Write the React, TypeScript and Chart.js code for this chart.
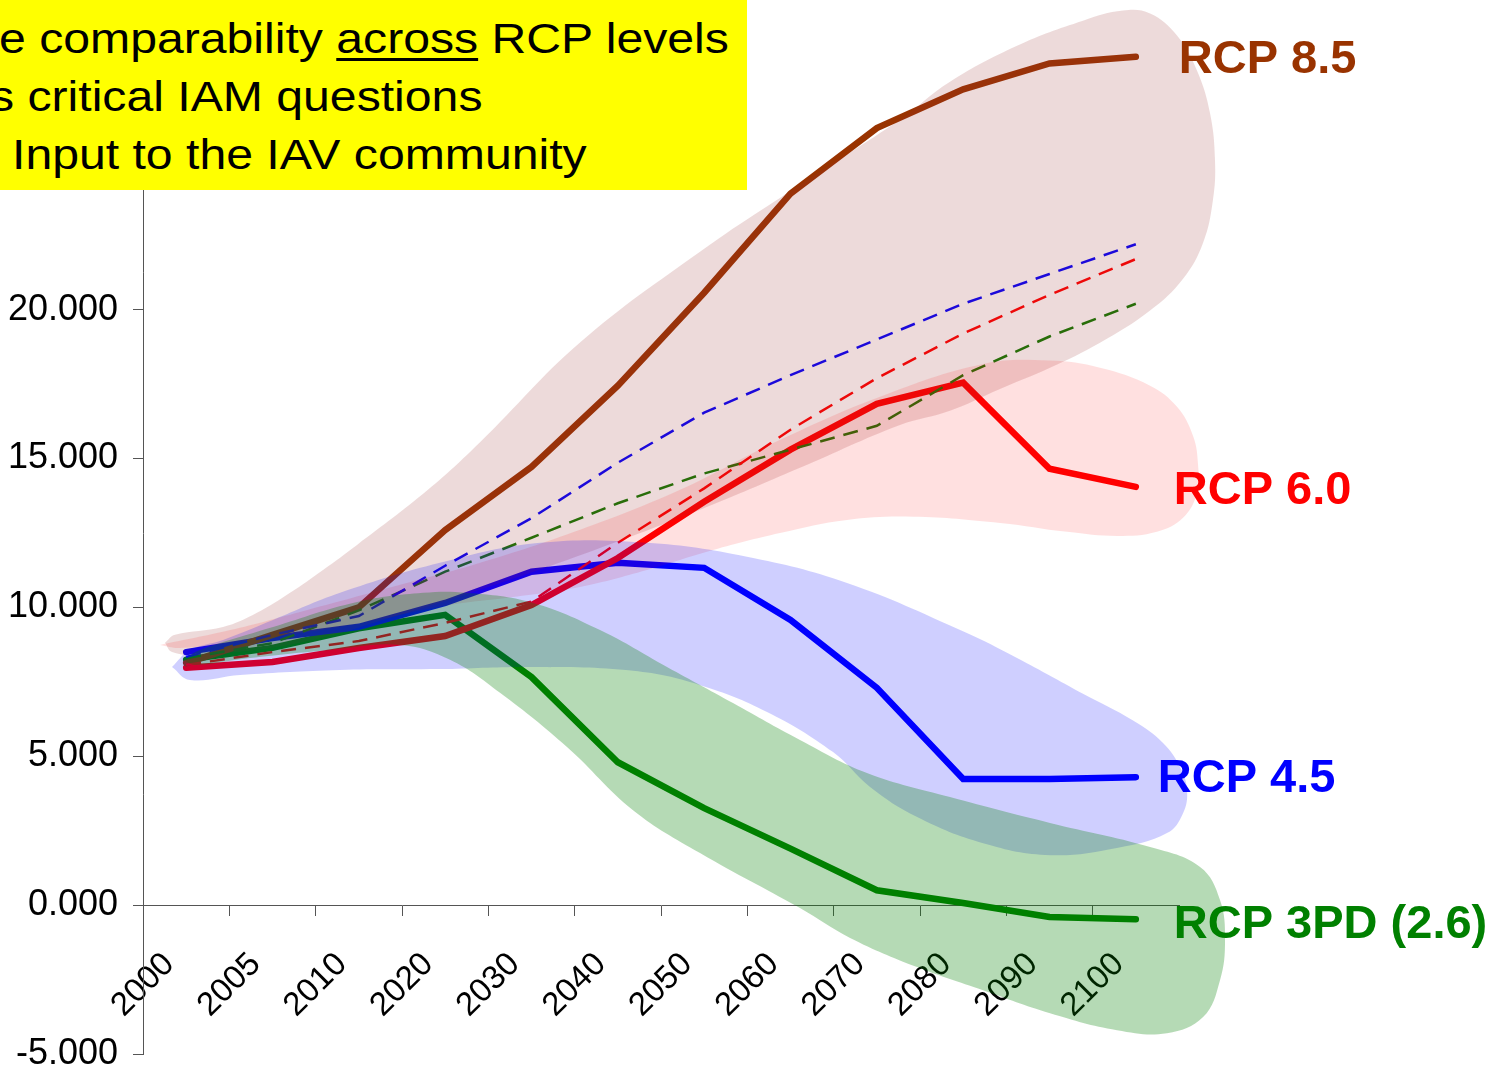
import React, { useEffect, useRef } from 'react';
import { Chart, registerables } from 'chart.js';

Chart.register(...registerables);

const FONT = '"Liberation Sans", Arial, Helvetica, sans-serif';

// Category labels of the x axis
const years = ['2000', '2005', '2010', '2020', '2030', '2040', '2050', '2060', '2070', '2080', '2090', '2100'];

// Main RCP pathways (solid)
const rcp85 = [8.13, 9.08, 10.0, 12.6, 14.72, 17.45, 20.57, 23.9, 26.1, 27.4, 28.27, 28.5];
const rcp60 = [7.97, 8.17, 8.64, 9.04, 10.08, 11.66, 13.55, 15.3, 16.84, 17.55, 14.66, 14.05];
const rcp45 = [8.5, 8.97, 9.35, 10.15, 11.2, 11.5, 11.33, 9.58, 7.3, 4.24, 4.24, 4.3];
const rcp3pd = [8.24, 8.64, 9.3, 9.75, 7.66, 4.8, 3.26, 1.9, 0.5, 0.07, -0.4, -0.47];

// Reference / baseline scenarios (dashed)
const refBlue = [8.34, 9.08, 9.71, 11.4, 13.0, 14.86, 16.54, 17.8, 19.0, 20.2, 21.2, 22.2];
const refRed = [8.07, 8.5, 8.87, 9.48, 10.2, 12.17, 14.0, 15.97, 17.7, 19.2, 20.5, 21.7];
const refGreen = [8.3, 8.8, 9.9, 11.2, 12.34, 13.5, 14.5, 15.3, 16.1, 17.8, 19.1, 20.2];

// Uncertainty ranges: outlines as [category position, value]
const band85: [number, number][] = [
  [-0.245, 8.81], [-0.129, 9.08], [0.427, 9.34], [0.82, 9.82], [1.203, 10.49], [1.585, 11.26],
  [1.979, 12.1], [2.8, 13.95], [3.404, 15.55], [4.562, 18.9], [5.952, 21.95],
  [7.11, 24.2], [8.269, 26.39], [8.848, 27.66], [9.624, 28.87], [10.388, 29.71], [10.852, 30.05],
  [11.165, 29.95], [11.477, 29.21], [11.709, 28.03], [11.86, 26.59], [11.917, 25.01], [11.894, 23.7],
  [11.779, 22.25], [11.547, 21.04], [11.165, 19.97], [10.585, 18.89], [10.006, 18.05], [9.427, 17.34],
  [8.848, 16.61], [8.269, 16.13], [7.11, 14.69], [5.952, 13.28], [4.794, 12.0], [3.635, 10.82],
  [2.477, 9.75], [1.319, 8.81], [0.16, 8.4], [-0.164, 8.5], [-0.245, 8.81],
];
const band60: [number, number][] = [
  [-0.303, 8.74], [0.508, 9.24], [1.319, 9.85], [2.477, 10.76], [3.404, 11.5], [4.562, 12.61],
  [5.72, 13.95], [6.879, 15.63], [8.037, 17.08], [9.23, 18.18], [10.006, 18.29], [10.585, 18.05],
  [11.165, 17.45], [11.477, 16.74], [11.663, 15.76], [11.72, 14.82], [11.709, 13.85], [11.547, 13.01],
  [11.245, 12.54], [10.782, 12.4], [10.203, 12.54], [9.427, 12.84], [8.419, 13.05], [7.655, 12.94],
  [6.879, 12.5], [6.103, 11.93], [5.338, 11.26], [4.562, 10.69], [3.786, 10.35], [3.056, 10.08],
  [1.898, 9.41], [0.739, 8.91], [-0.071, 8.64], [-0.303, 8.74],
];
const band45: [number, number][] = [
  [-0.164, 8.0], [0.044, 8.57], [0.427, 8.91], [1.006, 9.58], [1.782, 10.49], [2.94, 11.5],
  [4.099, 12.17], [5.338, 12.17], [6.496, 11.7], [7.655, 10.82], [8.998, 9.2], [9.624, 8.3],
  [10.388, 7.1], [10.968, 6.2], [11.315, 5.45], [11.512, 4.64], [11.593, 3.87], [11.547, 3.09],
  [11.361, 2.42], [10.782, 1.92], [10.006, 1.68], [9.23, 2.08], [8.466, 2.96], [7.921, 3.97],
  [7.493, 5.14], [6.728, 6.49], [5.952, 7.39], [5.176, 7.87], [4.018, 8.0], [2.94, 7.93], [1.782, 7.9],
  [0.624, 7.73], [0.044, 7.56], [-0.164, 8.0],
];
const band3pd: [number, number][] = [
  [-0.037, 8.24], [0.16, 8.57], [1.006, 9.34], [1.979, 10.18], [2.743, 10.49], [3.253, 10.49],
  [4.018, 10.15], [4.794, 9.24], [5.57, 8.0], [6.334, 6.79], [7.11, 5.55], [7.886, 4.44],
  [8.848, 3.63], [10.006, 2.76], [11.165, 1.95], [11.744, 1.28], [11.975, 0.17], [12.033, -1.18],
  [11.975, -2.52], [11.779, -3.76], [11.361, -4.3], [10.782, -4.2], [10.006, -3.63], [9.23, -2.86],
  [8.466, -2.08], [7.69, -1.1], [7.11, -0.1], [5.952, 1.75], [5.176, 3.19], [4.411, 5.31],
  [3.635, 7.13], [3.056, 8.24], [2.477, 8.74], [1.666, 8.57], [0.739, 8.3], [0.102, 8.07],
  [-0.037, 8.24],
];

const seriesNames = ['RCP 8.5', 'RCP 6.0', 'RCP 4.5', 'RCP 3PD (2.6)'];
const seriesColors = ['#993300', '#ff0000', '#0000ff', '#008000'];

const toXY = (vals: number[]) => vals.map((v, i) => ({ x: i, y: v }));
const toPts = (pairs: [number, number][]) => pairs.map(([x, y]) => ({ x, y }));

// Fills each band outline (smooth closed curve computed by Chart.js line element)
const bandFillPlugin = {
  id: 'bandFill',
  afterDatasetDraw(chart: any, args: any) {
    const ds = chart.data.datasets[args.index];
    if (!ds.isBand) return;
    const line = args.meta.dataset;
    if (!line || !line.points || !line.points.length) return;
    const ctx = chart.ctx;
    line.updateControlPoints(chart.chartArea, 'x');
    ctx.save();
    ctx.beginPath();
    line.path(ctx);
    ctx.closePath();
    ctx.fillStyle = ds.bandColor;
    ctx.fill();
    ctx.restore();
  },
};

// End-of-line series labels
const endLabelPlugin = {
  id: 'endLabels',
  afterDraw(chart: any) {
    const ctx = chart.ctx;
    const xs = chart.scales.x;
    const ys = chart.scales.y;
    const finals = [rcp85, rcp60, rcp45, rcp3pd].map((a) => a[a.length - 1]);
    const dx = [43, 38, 22, 38];
    const dy = [3, 4, 2, 6];
    ctx.save();
    ctx.font = `bold 47px ${FONT}`;
    ctx.textBaseline = 'middle';
    ctx.textAlign = 'left';
    seriesNames.forEach((name, i) => {
      ctx.fillStyle = seriesColors[i];
      const px = xs.getPixelForValue(years.length - 1) + dx[i];
      const py = ys.getPixelForValue(finals[i]) + dy[i];
      ctx.fillText(name, px, py);
    });
    ctx.restore();
  },
};

export default function App() {
  const ref = useRef<HTMLCanvasElement>(null);

  useEffect(() => {
    const canvas = ref.current;
    if (!canvas) return;
    const solid = (label: string, data: number[], color: string) => ({
      label,
      data: toXY(data),
      borderColor: color,
      backgroundColor: color,
      borderWidth: 6.5,
      pointRadius: 0,
      tension: 0,
      fill: false,
      borderCapStyle: 'round',
      borderJoinStyle: 'miter',
      xAxisID: 'x',
      yAxisID: 'y',
      order: 2,
    });
    const dashed = (label: string, data: number[], color: string) => ({
      label,
      data: toXY(data),
      borderColor: color,
      backgroundColor: color,
      borderWidth: 2.5,
      borderDash: [15, 9],
      pointRadius: 0,
      tension: 0,
      fill: false,
      xAxisID: 'x',
      yAxisID: 'y',
      order: 1,
    });
    const band = (label: string, pairs: [number, number][], color: string) => ({
      label,
      data: toPts(pairs),
      isBand: true,
      bandColor: color,
      borderWidth: 0,
      borderColor: 'rgba(0,0,0,0)',
      backgroundColor: color,
      pointRadius: 0,
      tension: 0.4,
      capBezierPoints: false,
      fill: false,
      clip: false,
      xAxisID: 'x',
      yAxisID: 'y',
      order: 0,
    });

    const chart = new Chart(canvas, {
      type: 'line',
      data: {
        labels: years,
        datasets: [
          band('RCP 3PD range', band3pd, 'rgba(0,128,0,0.29)'),
          band('RCP 4.5 range', band45, 'rgba(0,0,255,0.19)'),
          band('RCP 6.0 range', band60, 'rgba(255,0,0,0.12)'),
          band('RCP 8.5 range', band85, 'rgba(153,51,51,0.18)'),
          dashed('Baseline (blue)', refBlue, '#0000ff'),
          dashed('Baseline (red)', refRed, '#ff0000'),
          dashed('Baseline (green)', refGreen, '#107a00'),
          solid('RCP 8.5', rcp85, '#993300'),
          solid('RCP 6.0', rcp60, '#ff0000'),
          solid('RCP 4.5', rcp45, '#0000ff'),
          solid('RCP 3PD (2.6)', rcp3pd, '#008000'),
        ] as any,
      },
      options: {
        responsive: false,
        animation: false,
        events: [],
        layout: { padding: { left: 0, right: 329, top: 12, bottom: 13 } },
        plugins: {
          legend: { display: false },
          tooltip: { enabled: false },
        },
        scales: {
          x: { type: 'linear', min: -0.5, max: 11.5, display: false },
          xc: {
            type: 'category',
            axis: 'x',
            labels: years,
            offset: true,
            position: { y: 0 },
            grid: { offset: true, drawOnChartArea: false, drawTicks: true, tickLength: 10, color: '#555', lineWidth: 1 },
            border: { display: true, color: '#555', width: 1 },
            ticks: {
              autoSkip: false,
              minRotation: 45,
              maxRotation: 45,
              color: '#000',
              font: { size: 33, family: FONT },
              padding: 30,
              labelOffset: -17,
            },
            afterFit: (s: any) => {
              s.paddingLeft = 0;
              s.paddingRight = 0;
            },
          },
          y: {
            type: 'linear',
            position: 'left',
            min: -5,
            max: 30,
            ticks: {
              stepSize: 5,
              color: '#000',
              font: { size: 36, family: FONT },
              padding: 15,
              callback: (v: any) => Number(v).toFixed(3),
            },
            grid: { drawOnChartArea: false, tickLength: 10, color: '#555' },
            border: { color: '#555', width: 1 },
            afterFit: (s: any) => {
              s.width = 143;
              s.paddingTop = 0;
              s.paddingBottom = 0;
            },
          },
        } as any,
      },
      plugins: [bandFillPlugin, endLabelPlugin],
    });
    return () => chart.destroy();
  }, []);

  const lineStyle: React.CSSProperties = {
    position: 'absolute',
    whiteSpace: 'nowrap',
    transform: 'scaleX(1.12)',
    transformOrigin: '0 0',
    lineHeight: '43px',
  };

  return (
    <div style={{ position: 'fixed', left: 0, top: 0, width: 1508, height: 1067, background: '#fff', overflow: 'hidden' }}>
      <canvas ref={ref} width={1508} height={1067} style={{ position: 'absolute', left: 0, top: 0, width: 1508, height: 1067 }} />
      <div
        style={{
          position: 'absolute',
          left: 0,
          top: 0,
          width: 747,
          height: 190,
          background: '#ffff00',
          overflow: 'hidden',
          fontFamily: FONT,
          fontSize: 43,
          color: '#000',
        }}
      >
        <div style={{ ...lineStyle, left: -1, top: 16.6 }}>
          e comparability{' '}
          <span style={{ textDecoration: 'underline', textDecorationThickness: '3px', textUnderlineOffset: '5px' }}>across</span>{' '}
          RCP levels
        </div>
        <div style={{ ...lineStyle, left: -10, top: 74.6 }}>s critical IAM questions</div>
        <div style={{ ...lineStyle, left: 12, top: 132.6 }}>Input to the IAV community</div>
      </div>
    </div>
  );
}
